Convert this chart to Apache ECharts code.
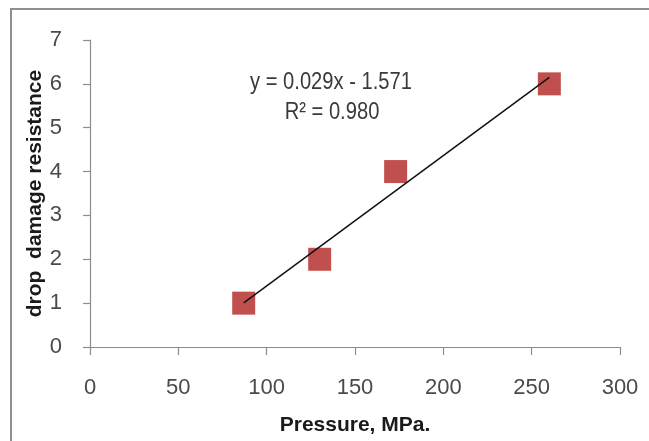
<!DOCTYPE html>
<html>
<head>
<meta charset="utf-8">
<script src="https://cdn.jsdelivr.net/npm/echarts@6/dist/echarts.min.js"></script>
<style>
html,body{margin:0;padding:0;background:#fff;}
#c{width:649px;height:441px;}
</style>
</head>
<body>
<div id="c"></div>
<script>
// Data
const pressure = [87, 130, 173, 260];
const resistance = [1, 2, 4, 6];
const equationText = 'y = 0.029x - 1.571';
const r2Text = 'R² = 0.980';
const xTicks = [0, 50, 100, 150, 200, 250, 300];
const yTicks = [0, 1, 2, 3, 4, 5, 6, 7];

// least-squares trendline from the data
const n = pressure.length;
const mx = pressure.reduce((a, b) => a + b, 0) / n;
const my = resistance.reduce((a, b) => a + b, 0) / n;
let sxy = 0, sxx = 0;
for (let i = 0; i < n; i++) { sxy += (pressure[i] - mx) * (resistance[i] - my); sxx += (pressure[i] - mx) ** 2; }
const slope = sxy / sxx, intercept = my - slope * mx;
const xMin = Math.min(...pressure), xMax = Math.max(...pressure);
const trend = [[xMin, slope * xMin + intercept], [xMax, slope * xMax + intercept]];

const font = '"Liberation Sans", Arial, sans-serif';
const chart = echarts.init(document.getElementById('c'), null, {renderer: 'canvas'});
chart.setOption({
  animation: false,
  backgroundColor: '#fff',
  grid: {left: 90, right: 29, top: 40, bottom: 94},
  xAxis: {
    type: 'value', min: xTicks[0], max: xTicks[xTicks.length - 1], interval: 50,
    name: 'Pressure, MPa.', nameLocation: 'middle', nameGap: 68, nameMoveOverlap: false,
    nameTextStyle: {fontFamily: font, fontSize: 21, fontWeight: 'bold', color: '#1a1a1a'},
    axisLine: {show: true, lineStyle: {color: '#8c8c8c', width: 1.2}},
    axisTick: {show: true, length: 8, lineStyle: {color: '#8c8c8c', width: 1.2}},
    axisLabel: {fontFamily: font, fontSize: 22, color: '#4a4a4a', margin: 30},
    splitLine: {show: false}
  },
  yAxis: {
    type: 'value', min: yTicks[0], max: yTicks[yTicks.length - 1], interval: 1,
    name: 'drop  damage resistance', nameLocation: 'middle', nameGap: 44, nameMoveOverlap: false,
    nameTextStyle: {fontFamily: font, fontSize: 21, fontWeight: 'bold', color: '#1a1a1a'},
    axisLine: {show: true, lineStyle: {color: '#8c8c8c', width: 1.2}},
    axisTick: {show: true, length: 7, lineStyle: {color: '#8c8c8c', width: 1.2}},
    axisLabel: {fontFamily: font, fontSize: 22, color: '#4a4a4a', margin: 28},
    splitLine: {show: false}
  },
  graphic: [
    {type: 'rect', shape: {x: 11, y: 9, width: 800, height: 600}, style: {fill: 'none', stroke: '#8f8f8f', lineWidth: 2}, silent: true, z: 100},
    {type: 'text', x: 331, y: 82, scaleX: 0.84, style: {text: equationText, font: '24px ' + font, fill: '#3a3a3a', align: 'center', verticalAlign: 'middle'}},
    {type: 'text', x: 332, y: 112, scaleX: 0.84, style: {text: r2Text, font: '24px ' + font, fill: '#3a3a3a', align: 'center', verticalAlign: 'middle'}}
  ],
  series: [
    {
      type: 'scatter', symbol: 'rect', symbolSize: 23,
      itemStyle: {color: '#c0504d', opacity: 1},
      data: pressure.map((x, i) => [x, resistance[i]]),
      z: 2
    },
    {
      type: 'line', data: trend, showSymbol: false, symbol: 'none',
      lineStyle: {color: '#111', width: 1.5}, z: 3
    }
  ]
});
</script>
</body>
</html>
